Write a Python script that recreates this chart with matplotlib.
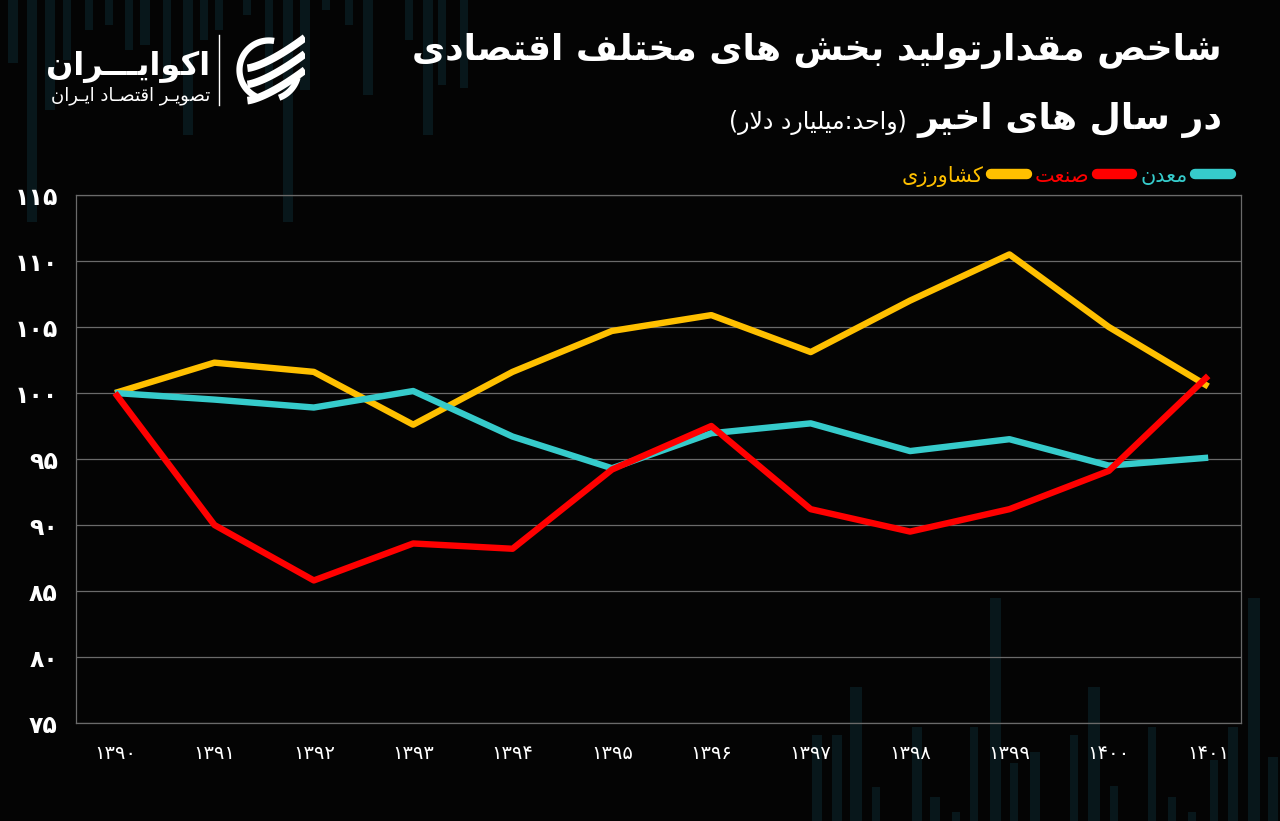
import matplotlib
matplotlib.use('Agg')
import matplotlib.pyplot as plt
import numpy as np
from matplotlib import font_manager
from matplotlib.ft2font import FT2Font
from matplotlib.lines import Line2D
from matplotlib.patches import Rectangle

# data (index base 1390 = 100)
years = [1390, 1391, 1392, 1393, 1394, 1395, 1396, 1397, 1398, 1399, 1400, 1401]
keshavarzi = [100, 102.3, 101.6, 97.6, 101.6, 104.7, 105.9, 103.1, 107.0, 110.5, 105.0, 100.5]
sanat = [100, 90.0, 85.8, 88.6, 88.2, 94.2, 97.5, 91.2, 89.5, 91.2, 94.1, 101.3]
madan = [100, 99.5, 98.9, 100.15, 96.7, 94.3, 96.95, 97.7, 95.6, 96.5, 94.5, 95.1]
y_ticks = [75, 80, 85, 90, 95, 100, 105, 110, 115]

title1 = 'شاخص مقدارتولید بخش های مختلف اقتصادی'
title2 = 'در سال های اخیر'
unit_text = '(واحد:میلیارد دلار)'
names = {'keshavarzi': 'کشاورزی', 'sanat': 'صنعت', 'madan': 'معدن'}
logo_big = 'اکوایـــران'
logo_small = 'تصویـر اقتصـاد ایـران'

# decorative background stripes (pixel x, width, end y)
top_stripes = [(8, 10, 63), (27, 10, 222), (45, 10, 110), (63, 8, 60), (85, 8, 30),
               (105, 8, 25), (125, 8, 50), (140, 10, 45), (163, 8, 80), (183, 10, 135),
               (200, 8, 40), (215, 8, 30), (243, 8, 15), (265, 8, 95), (283, 10, 222),
               (300, 10, 90), (322, 8, 10), (345, 8, 25), (363, 10, 95), (405, 8, 40),
               (423, 10, 135), (438, 8, 85), (460, 8, 88)]
bottom_stripes = [(812, 10, 735), (832, 10, 735), (850, 12, 687), (872, 8, 787),
                  (912, 10, 727), (930, 10, 797), (952, 8, 812), (970, 8, 727),
                  (990, 11, 598), (1010, 8, 763), (1030, 10, 752), (1070, 8, 735),
                  (1088, 12, 687), (1110, 8, 786), (1148, 8, 727), (1168, 8, 797),
                  (1188, 8, 812), (1210, 8, 760), (1228, 10, 727), (1248, 12, 598),
                  (1268, 10, 757)]

YELLOW = '#FFC000'
RED = '#FF0000'
TEAL = '#36CBCB'
BG = '#040404'
STRIPE = '#08171b'

# --- tiny persian shaper: matplotlib has no arabic text layout ---
# (isolated, final, initial, medial); right-joining letters have no initial/medial
FORMS = {
    'ا': ('\uFE8D', '\uFE8E', None, None),
    'ب': ('\uFE8F', '\uFE90', '\uFE91', '\uFE92'),
    'ت': ('\uFE95', '\uFE96', '\uFE97', '\uFE98'),
    'ح': ('\uFEA1', '\uFEA2', '\uFEA3', '\uFEA4'),
    'خ': ('\uFEA5', '\uFEA6', '\uFEA7', '\uFEA8'),
    'د': ('\uFEA9', '\uFEAA', None, None),
    'ر': ('\uFEAD', '\uFEAE', None, None),
    'ز': ('\uFEAF', '\uFEB0', None, None),
    'س': ('\uFEB1', '\uFEB2', '\uFEB3', '\uFEB4'),
    'ش': ('\uFEB5', '\uFEB6', '\uFEB7', '\uFEB8'),
    'ص': ('\uFEB9', '\uFEBA', '\uFEBB', '\uFEBC'),
    'ع': ('\uFEC9', '\uFECA', '\uFECB', '\uFECC'),
    'ف': ('\uFED1', '\uFED2', '\uFED3', '\uFED4'),
    'ق': ('\uFED5', '\uFED6', '\uFED7', '\uFED8'),
    'ل': ('\uFEDD', '\uFEDE', '\uFEDF', '\uFEE0'),
    'م': ('\uFEE1', '\uFEE2', '\uFEE3', '\uFEE4'),
    'ن': ('\uFEE5', '\uFEE6', '\uFEE7', '\uFEE8'),
    'ه': ('\uFEE9', '\uFEEA', '\uFEEB', '\uFEEC'),
    'و': ('\uFEED', '\uFEEE', None, None),
    'ی': ('\uFBFC', '\uFBFD', '\uFBFE', '\uFBFF'),
    'ک': ('\uFB8E', '\uFB8F', '\uFB90', '\uFB91'),
    'ـ': ('ـ', 'ـ', 'ـ', 'ـ'),
}
# arabic kaf/yeh in case the font misses the persian presentation forms
ALT = {'ی': ('\uFBFC', '\uFBFD', '\uFEF3', '\uFEF4'),
       'ک': ('\uFB8E', '\uFB8F', '\uFEDB', '\uFEDC')}

path = font_manager.findfont(font_manager.FontProperties(family='DejaVu Sans', weight='bold'))
cmap = FT2Font(path).get_charmap()
for k in ALT:
    for g in FORMS[k]:
        if ord(g) not in cmap:
            FORMS[k] = ALT[k]
            break


def fa(text):
    out = []
    n = len(text)
    i = 0
    while i < n:
        c = text[i]
        if c not in FORMS:
            out.append(c)
            i += 1
            continue
        prev = text[i - 1] if i > 0 else None
        jp = prev in FORMS and FORMS[prev][2] is not None
        nxt = text[i + 1] if i + 1 < n else None
        if c == 'ل' and nxt == 'ا':
            out.append('\uFEFC' if jp else '\uFEFB')
            i += 2
            continue
        jn = FORMS[c][2] is not None and nxt in FORMS
        iso, fin, ini, med = FORMS[c]
        if jp and jn:
            out.append(med)
        elif jp:
            out.append(fin)
        elif jn:
            out.append(ini)
        else:
            out.append(iso)
        i += 1
    vis = ''.join(reversed(out))
    return vis.translate(str.maketrans('()', ')('))


def fa_num(v):
    return str(v).translate(str.maketrans('0123456789', '۰۱۲۳۴۵۶۷۸۹'))


plt.rcParams['font.family'] = ['DejaVu Sans']

fig = plt.figure(figsize=(12.8, 8.21), dpi=100, facecolor=BG)

# background stripes
for sx, sw, sy in top_stripes:
    fig.add_artist(Rectangle((sx / 1280, 1 - sy / 821), sw / 1280, sy / 821,
                             color=STRIPE, lw=0, zorder=0))
for sx, sw, sy in bottom_stripes:
    fig.add_artist(Rectangle((sx / 1280, 0), sw / 1280, 1 - sy / 821,
                             color=STRIPE, lw=0, zorder=0))

ax = fig.add_axes([76 / 1280, 1 - 723 / 821, (1241 - 76) / 1280, (723 - 195) / 821])
ax.set_facecolor('none')
ax.set_zorder(2)

x = list(range(len(years)))
ax.plot(x, keshavarzi, color=YELLOW, lw=4.6, solid_capstyle='butt', zorder=3)
ax.plot(x, madan, color=TEAL, lw=4.6, solid_capstyle='butt', zorder=4)
ax.plot(x, sanat, color=RED, lw=4.6, solid_capstyle='butt', zorder=5)

ax.set_xlim(-0.393, 11.33)
ax.set_ylim(75, 115)
ax.set_yticks(y_ticks)
ax.set_yticklabels([fa_num(v) for v in y_ticks], fontsize=17, fontweight='bold', color='white')
ax.set_xticks(x)
ax.set_xticklabels([fa_num(v) for v in years], fontsize=14, color='white')
ax.tick_params(axis='both', length=0)
ax.tick_params(axis='y', pad=13)
ax.tick_params(axis='x', pad=15)
ax.grid(axis='y', color='#6a6a6a', lw=0.9)
ax.set_axisbelow(True)
for s in ax.spines.values():
    s.set_color('#6a6a6a')
    s.set_linewidth(0.9)

# legend, marker on the right of the label (rtl)
handles = [Line2D([], [], color=YELLOW, lw=7.5, solid_capstyle='round'),
           Line2D([], [], color=RED, lw=7.5, solid_capstyle='round'),
           Line2D([], [], color=TEAL, lw=7.5, solid_capstyle='round')]
labels = [fa(names['keshavarzi']), fa(names['sanat']), fa(names['madan'])]
leg = ax.legend(handles, labels, loc='lower right', bbox_to_anchor=(1.0, 0.996), ncol=3,
                markerfirst=False, frameon=False, handlelength=1.7,
                handletextpad=0.35, columnspacing=0.4, borderaxespad=0.1,
                prop={'size': 15})
for t, c in zip(leg.get_texts(), [YELLOW, RED, TEAL]):
    t.set_color(c)

# titles
fig.text(1222 / 1280, 1 - 60 / 821, fa(title1), ha='right', va='baseline',
         fontsize=26, fontweight='bold', color='white')
t2 = fig.text(1222 / 1280, 1 - 129 / 821, fa(title2), ha='right', va='baseline',
              fontsize=26, fontweight='bold', color='white')
fig.canvas.draw()
bb = t2.get_window_extent()
fig.text((bb.x0 - 10) / 1280, 1 - 129 / 821, fa(unit_text), ha='right', va='baseline',
         fontsize=17, color='white')

# logo
fig.text(210 / 1280, 1 - 75 / 821, fa(logo_big), ha='right', va='baseline',
         fontsize=23, fontweight='bold', color='white')
fig.text(210 / 1280, 1 - 100 / 821, fa(logo_small), ha='right', va='baseline',
         fontsize=13, color='white')
fig.add_artist(Line2D([219 / 1280, 219 / 1280], [1 - 35 / 821, 1 - 105 / 821],
                      color='white', lw=1))
lax = fig.add_axes([232 / 1280, 1 - 106 / 821, 74 / 1280, 72 / 821])
lax.set_xlim(-1, 1)
lax.set_ylim(-1, 1)
lax.set_aspect('equal')
lax.axis('off')
th = np.linspace(np.radians(80), np.radians(250), 60)
lax.plot(0.82 * np.cos(th), 0.82 * np.sin(th), color='white', lw=4.5, solid_capstyle='butt')
th = np.linspace(np.radians(290), np.radians(345), 30)
lax.plot(0.82 * np.cos(th), 0.82 * np.sin(th), color='white', lw=4.5, solid_capstyle='butt')
for off in [0.45, 0.0, -0.45]:
    tt = np.linspace(0, 1, 40)
    bx = -0.6 + 1.6 * tt
    by = off - 0.4 + 0.85 * tt ** 1.4
    lax.plot(bx, by, color='white', lw=5.5, solid_capstyle='butt')

fig.savefig('out.png', dpi=100, facecolor=BG)
